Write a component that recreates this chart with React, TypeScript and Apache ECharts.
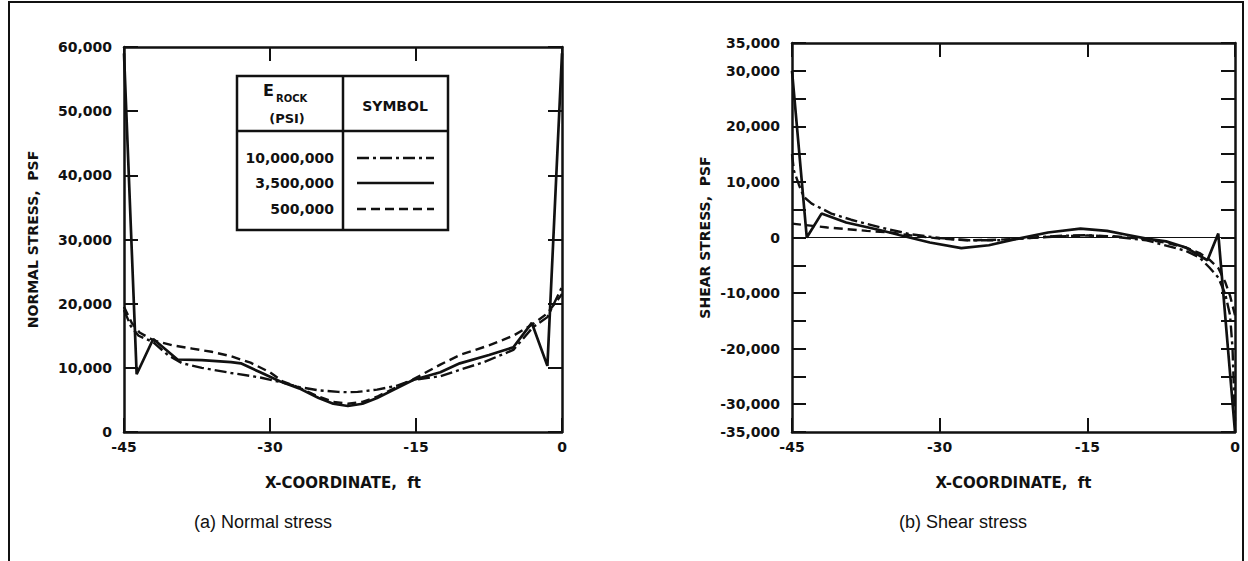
import React, { useEffect, useRef } from "react";
import * as echarts from "echarts";

// ---------- tick labels ----------
const X_TICK_LABELS = ["-45", "-30", "-15", "0"];

// ---------- (a) Normal stress, PSF ----------
// E rock = 10,000,000 psi (dash-dot)
const N10M_X = [-45, -44.3, -43.5, -42, -40.5, -39, -37, -34, -31, -28.7, -27, -25, -23, -22, -21, -19, -17, -15.3, -12.5, -10.5, -8, -5, -3, -1.5, 0];
const N10M_Y = [19000, 16500, 15000, 14000, 12000, 10700, 10000, 9200, 8500, 7700, 7000, 6500, 6250, 6200, 6250, 6600, 7200, 8100, 8700, 9700, 10900, 12800, 16300, 17900, 22600];
// E rock = 3,500,000 psi (solid)
const N3M_X = [-45, -43.7, -42, -39.5, -37, -34, -33, -31, -29, -27, -25, -23.5, -22, -20.5, -19, -17, -15.3, -12.5, -10.5, -7.5, -5, -3.1, -1.5, 0];
const N3M_Y = [59000, 9000, 14500, 11300, 11200, 10900, 10700, 9300, 7900, 6800, 5300, 4400, 4050, 4400, 5300, 6800, 8100, 9300, 10700, 12000, 13200, 17000, 10300, 59000];
// E rock = 500,000 psi (dashed)
const N500K_X = [-45, -44.2, -43.4, -42, -40, -38, -36, -34, -32, -30, -28.7, -27, -25, -23.5, -22, -20.5, -19, -17, -15.3, -12.5, -10.5, -7.5, -5, -3, -1.5, 0];
const N500K_Y = [19500, 17000, 15500, 14300, 13500, 13000, 12500, 11800, 10800, 9300, 7900, 6900, 5500, 4700, 4400, 4700, 5500, 7000, 8200, 10500, 12000, 13500, 15000, 16800, 18500, 21500];

// ---------- (b) Shear stress, PSF ----------
const S10M_X = [-45, -44.8, -44.3, -43.8, -43, -41, -39, -36, -33, -30, -27, -24, -21, -18, -15, -12, -9, -6.9, -5, -3.6, -2.6, -1.7, -1, -0.5, -0.25, 0];
const S10M_Y = [15000, 12000, 9500, 7300, 6100, 4300, 3200, 1800, 600, -100, -500, -500, -100, 300, 400, 100, -500, -1500, -2400, -3600, -5400, -7200, -10100, -14000, -20000, -33000];
const S3M_X = [-45, -43.5, -42, -39.5, -36, -34, -31, -27.8, -25, -22, -19, -15.7, -13, -11, -9, -7, -5, -2.8, -1.7, 0];
const S3M_Y = [30000, 0, 4300, 2700, 1300, 400, -900, -1900, -1400, -200, 900, 1600, 1200, 500, -200, -700, -1800, -4100, 700, -35000];
const S500K_X = [-45, -41.4, -37.4, -35, -33, -30, -27, -24, -21, -18, -15, -12, -9, -6.9, -5, -3.6, -2.6, -1.7, -1, -0.5, 0];
const S500K_Y = [2500, 1800, 1200, 900, 400, -200, -500, -400, -100, 200, 350, 200, -300, -1000, -1800, -2800, -4000, -5500, -8000, -10500, -14000];

// legend table
const LEGEND_LABELS = ["10,000,000", "3,500,000", "500,000"];

const zip = (xs: number[], ys: number[]) => xs.map((x, i) => [x, ys[i]]);

const DASHDOT = [12, 4, 3, 4];
const DASHED = [9, 5];
const FONT = "'DejaVu Sans', 'Liberation Sans', Arial, sans-serif";
const BLACK = "#111";

function xAxes(grid: number) {
  const base = {
    gridIndex: grid,
    type: "value",
    min: -45,
    max: 0,
    interval: 15,
    splitLine: { show: false },
    axisLine: { show: true, onZero: false, lineStyle: { color: BLACK, width: 2.5 } },
    axisTick: { show: true, inside: true, length: 14, lineStyle: { color: BLACK, width: 2 } },
  };
  return [
    {
      ...base,
      position: "bottom",
      axisLabel: {
        color: BLACK,
        fontFamily: FONT,
        fontWeight: "bold",
        fontSize: 14,
        margin: 8,
        formatter: (v: number) => X_TICK_LABELS[Math.round((v + 45) / 15)] ?? "",
      },
      name: "X-COORDINATE,  ft",
      nameLocation: "middle",
      nameGap: 43,
      nameTextStyle: { color: BLACK, fontFamily: FONT, fontWeight: "bold", fontSize: 15 },
    },
    { ...base, position: "top", axisLabel: { show: false } },
  ];
}

function yAxes(grid: number, min: number, max: number, interval: number, name: string, gap: number, fmt: (v: number) => string) {
  const base = {
    gridIndex: grid,
    type: "value",
    min,
    max,
    interval,
    splitLine: { show: false },
    axisLine: { show: true, onZero: false, lineStyle: { color: BLACK, width: 2.5 } },
    axisTick: { show: true, inside: true, length: 14, lineStyle: { color: BLACK, width: 2 } },
  };
  return [
    {
      ...base,
      position: "left",
      axisLabel: { color: BLACK, fontFamily: FONT, fontWeight: "bold", fontSize: 14, margin: 12, formatter: fmt },
      name,
      nameLocation: "middle",
      nameGap: gap,
      nameTextStyle: { color: BLACK, fontFamily: FONT, fontWeight: "bold", fontSize: 14 },
    },
    { ...base, position: "right", axisLabel: { show: false } },
  ];
}

function line(name: string, data: number[][], xi: number, yi: number, dash: any, width: number, extra: any = {}) {
  return {
    name,
    type: "line",
    xAxisIndex: xi,
    yAxisIndex: yi,
    data,
    showSymbol: false,
    symbol: "none",
    smooth: false,
    lineStyle: { color: BLACK, width, type: dash },
    z: 3,
    ...extra,
  };
}

export default function App() {
  const ref = useRef<HTMLDivElement>(null);

  useEffect(() => {
    if (!ref.current) return;
    const chart = echarts.init(ref.current, undefined, { renderer: "svg" });

    const lgLeft = 237, lgTop = 76, lgRight = 448, lgBottom = 230, lgHead = 131, lgMid = 343;
    const rowY = [158, 183, 209];
    const dashes = [DASHDOT, null, DASHED];

    const legendEls: any[] = [
      { type: "rect", shape: { x: lgLeft, y: lgTop, width: lgRight - lgLeft, height: lgBottom - lgTop }, style: { fill: "#fff", stroke: BLACK, lineWidth: 2.5 }, z: 10 },
      { type: "line", shape: { x1: lgLeft, y1: lgHead, x2: lgRight, y2: lgHead }, style: { stroke: BLACK, lineWidth: 2.5 }, z: 11 },
      { type: "line", shape: { x1: lgMid, y1: lgTop, x2: lgMid, y2: lgBottom }, style: { stroke: BLACK, lineWidth: 2.5 }, z: 11 },
      { type: "text", style: { text: "E", x: 263, y: 90, font: `bold 16px ${FONT}`, fill: BLACK, textAlign: "left", textVerticalAlign: "middle" }, z: 11 },
      { type: "text", style: { text: "ROCK", x: 276, y: 98, font: `bold 10px ${FONT}`, fill: BLACK, textAlign: "left", textVerticalAlign: "middle" }, z: 11 },
      { type: "text", style: { text: "(PSI)", x: 287, y: 118, font: `bold 13px ${FONT}`, fill: BLACK, textAlign: "center", textVerticalAlign: "middle" }, z: 11 },
      { type: "text", style: { text: "SYMBOL", x: 395, y: 106, font: `bold 14px ${FONT}`, fill: BLACK, textAlign: "center", textVerticalAlign: "middle" }, z: 11 },
    ];
    LEGEND_LABELS.forEach((t, i) => {
      legendEls.push({ type: "text", style: { text: t, x: 334, y: rowY[i], font: `bold 14px ${FONT}`, fill: BLACK, textAlign: "right", textVerticalAlign: "middle" }, z: 11 });
      legendEls.push({ type: "line", shape: { x1: 357, y1: rowY[i], x2: 434, y2: rowY[i] }, style: { stroke: BLACK, lineWidth: 2.5, lineDash: dashes[i] || undefined }, z: 11 });
    });

    const captionFont = `18px 'Liberation Sans', Arial, sans-serif`;

    chart.setOption({
      animation: false,
      backgroundColor: "#fff",
      grid: [
        { left: 124, top: 47, width: 438, height: 385 },
        { left: 792, top: 43, width: 443, height: 389 },
      ],
      xAxis: [...xAxes(0), ...xAxes(1)],
      yAxis: [
        ...yAxes(0, 0, 60000, 10000, "NORMAL STRESS,  PSF", 84, (v: number) => v.toLocaleString("en-US")),
        ...yAxes(1, -35000, 35000, 5000, "SHEAR STRESS,  PSF", 80, (v: number) =>
          v % 10000 === 0 || Math.abs(v) === 35000 ? v.toLocaleString("en-US") : ""
        ),
      ],
      series: [
        line("10,000,000", zip(N10M_X, N10M_Y), 0, 0, DASHDOT, 2.4),
        line("3,500,000", zip(N3M_X, N3M_Y), 0, 0, "solid", 2.7),
        line("500,000", zip(N500K_X, N500K_Y), 0, 0, DASHED, 2.4),
        line("10,000,000 shear", zip(S10M_X, S10M_Y), 2, 2, DASHDOT, 2.4),
        line("3,500,000 shear", zip(S3M_X, S3M_Y), 2, 2, "solid", 2.7, {
          markLine: {
            silent: true,
            symbol: "none",
            label: { show: false },
            lineStyle: { color: BLACK, width: 1.2, type: "solid" },
            data: [{ yAxis: 0 }],
          },
        }),
        line("500,000 shear", zip(S500K_X, S500K_Y), 2, 2, DASHED, 2.4),
      ],
      graphic: [
        { type: "polyline", shape: { points: [[9, 561], [9, 2], [1243, 2], [1243, 561]] }, style: { stroke: BLACK, lineWidth: 2, fill: "none" }, z: 1 },
        ...legendEls,
        { type: "text", style: { text: "(a) Normal stress", x: 263, y: 522, font: captionFont, fill: BLACK, textAlign: "center", textVerticalAlign: "middle" } },
        { type: "text", style: { text: "(b) Shear stress", x: 963, y: 522, font: captionFont, fill: BLACK, textAlign: "center", textVerticalAlign: "middle" } },
      ],
    });

    return () => chart.dispose();
  }, []);

  return <div ref={ref} style={{ position: "absolute", left: 0, top: 0, width: 1248, height: 561 }} />;
}
